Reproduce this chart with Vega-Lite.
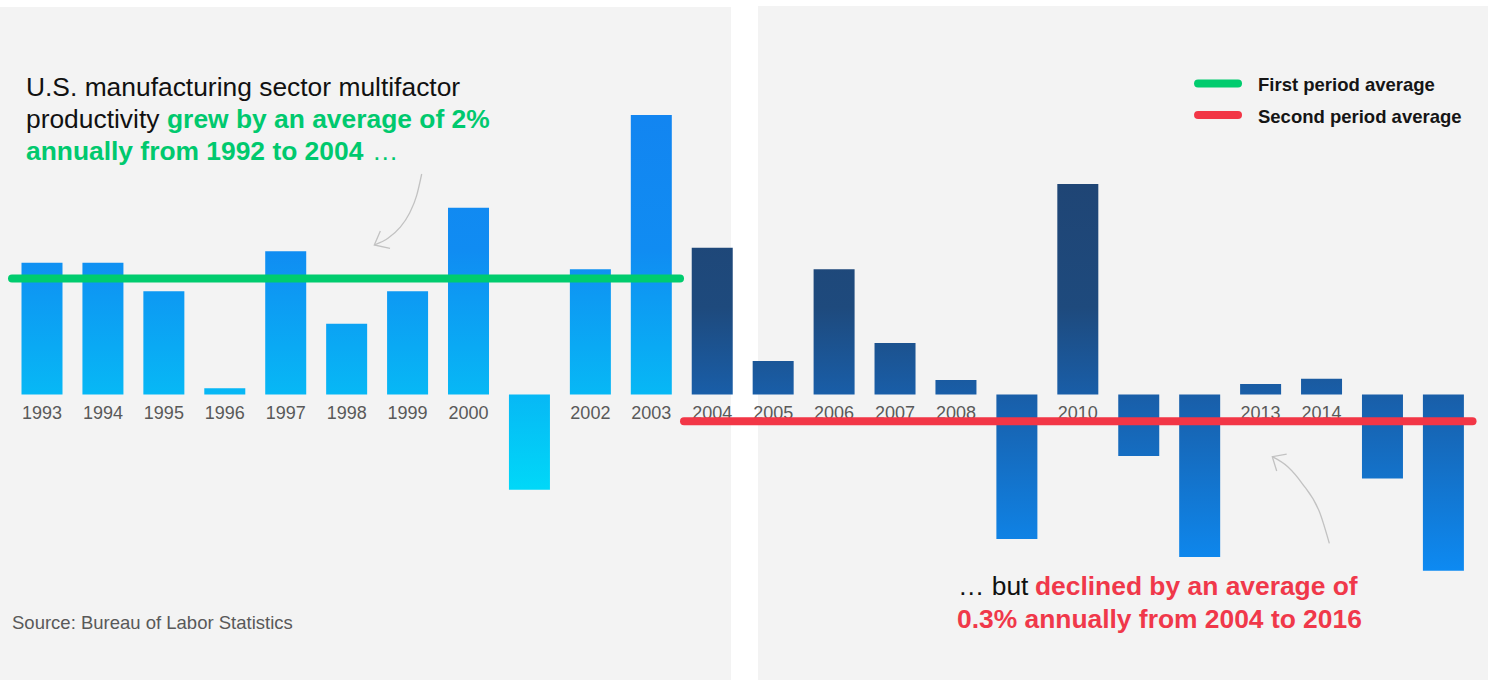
{
  "$schema": "https://vega.github.io/schema/vega-lite/v6.json",
  "width": 1488,
  "height": 680,
  "autosize": "none",
  "padding": 0,
  "background": "white",
  "config": {"view": {"stroke": null}, "axis": {"disable": true}, "font": "Liberation Sans", "scale": {"continuousPadding": 0}},
  "datasets": {
    "bars": [
      {"year": 1993, "v": 2.27}, {"year": 1994, "v": 2.27}, {"year": 1995, "v": 1.78},
      {"year": 1996, "v": 0.11}, {"year": 1997, "v": 2.47}, {"year": 1998, "v": 1.22},
      {"year": 1999, "v": 1.78}, {"year": 2000, "v": 3.22}, {"year": 2001, "v": -1.64},
      {"year": 2002, "v": 2.16}, {"year": 2003, "v": 4.82}, {"year": 2004, "v": 2.53},
      {"year": 2005, "v": 0.58}, {"year": 2006, "v": 2.16}, {"year": 2007, "v": 0.89},
      {"year": 2008, "v": 0.25}, {"year": 2009, "v": -2.49}, {"year": 2010, "v": 3.63},
      {"year": 2011, "v": -1.06}, {"year": 2012, "v": -2.8}, {"year": 2013, "v": 0.18},
      {"year": 2014, "v": 0.27}, {"year": 2015, "v": -1.45}, {"year": 2016, "v": -3.04}
    ],
    "panels": [
      {"panel": "left", "x": 1992.3107, "x2": 2004.308, "v": 6.681, "v2": -4.922},
      {"panel": "right", "x": 2004.751, "x2": 2016.732, "v": 6.698, "v2": -4.922}
    ],
    "avg": [
      {"period": "first", "x": 1992.508, "v": 2.0},
      {"period": "first", "x": 2003.471, "v": 2.0},
      {"period": "second", "x": 2003.537, "v": -0.462},
      {"period": "second", "x": 2016.478, "v": -0.462}
    ],
    "key": [
      {"period": "first", "x": 2011.973, "v": 5.362},
      {"period": "first", "x": 2012.629, "v": 5.362},
      {"period": "second", "x": 2011.973, "v": 4.819},
      {"period": "second", "x": 2012.629, "v": 4.819}
    ],
    "notes": [
      {"style": "key", "x": 2012.957, "v": 5.233, "text": "First period average"},
      {"style": "key", "x": 2012.957, "v": 4.681, "text": "Second period average"},
      {"style": "black", "x": 1992.737, "v": 5.147, "text": "U.S. manufacturing sector multifactor"},
      {"style": "black", "x": 1992.737, "v": 4.595, "text": "productivity"},
      {"style": "greenbold", "x": 1995.0515, "v": 4.595, "text": "grew by an average of 2%"},
      {"style": "greenbold", "x": 1992.737, "v": 4.043, "text": "annually from 1992 to 2004"},
      {"style": "green", "x": 1998.416, "v": 4.043, "text": "…"},
      {"style": "black", "x": 2008.034, "v": -3.457, "text": "… but"},
      {"style": "redbold", "x": 2009.297, "v": -3.457, "text": "declined by an average of"},
      {"style": "redbold", "x": 2008.017, "v": -4.026, "text": "0.3% annually from 2004 to 2016"},
      {"style": "source", "x": 1992.508, "v": -4.043, "text": "Source: Bureau of Labor Statistics"}
    ],
    "arrows": [
      {"arrow": "a", "x": 1999.2317, "v": 3.802},
      {"arrow": "a", "x": 1999.1497, "v": 3.433},
      {"arrow": "a", "x": 1999.0315, "v": 3.126},
      {"arrow": "a", "x": 1998.8756, "v": 2.881},
      {"arrow": "a", "x": 1998.6836, "v": 2.698},
      {"arrow": "a", "x": 1998.454, "v": 2.578},
      {"arrow": "b", "x": 2014.128, "v": -2.566},
      {"arrow": "b", "x": 2013.975, "v": -2.048},
      {"arrow": "b", "x": 2013.68, "v": -1.531},
      {"arrow": "b", "x": 2013.45, "v": -1.25},
      {"arrow": "b", "x": 2013.192, "v": -1.072}
    ],
    "heads": [
      {"arrow": "a", "i": 1, "x": 1998.553, "v": 2.819},
      {"arrow": "a", "i": 2, "x": 1998.454, "v": 2.578},
      {"arrow": "a", "i": 3, "x": 1998.712, "v": 2.521},
      {"arrow": "b", "i": 1, "x": 2013.428, "v": -1.026},
      {"arrow": "b", "i": 2, "x": 2013.192, "v": -1.072},
      {"arrow": "b", "i": 3, "x": 2013.264, "v": -1.319}
    ]
  },
  "layer": [
    {
      "data": {"name": "panels"},
      "mark": {"type": "rect", "fill": "#f3f3f3"},
      "encoding": {
        "x": {"field": "x", "type": "quantitative", "scale": {"domain": [1992.3107, 2016.732], "nice": false, "zero": false, "padding": 0}, "axis": null},
        "x2": {"field": "x2"},
        "y": {"field": "v", "type": "quantitative", "scale": {"domain": [-4.922, 6.802], "nice": false, "zero": false, "padding": 0}, "axis": null},
        "y2": {"field": "v2"}
      }
    },
    {
      "data": {"name": "bars"},
      "mark": {
        "type": "bar",
        "width": 41,
        "fill": {"expr": "datum.year < 2004 ? {gradient: 'linear', x1: 0, x2: 0, y1: (max(datum.v, 0) - 4.82) / abs(datum.v), y2: (max(datum.v, 0) + 1.64) / abs(datum.v), stops: [{offset: 0, color: '#1285f1'}, {offset: 0.36, color: '#108cf2'}, {offset: 0.746, color: '#07b8f5'}, {offset: 1, color: '#00d8f8'}]} : {gradient: 'linear', x1: 0, x2: 0, y1: (max(datum.v, 0) - 3.63) / abs(datum.v), y2: (max(datum.v, 0) + 3.04) / abs(datum.v), stops: [{offset: 0, color: '#1f4575'}, {offset: 0.32, color: '#1e4a7d'}, {offset: 0.544, color: '#195ea8'}, {offset: 1, color: '#0d8af2'}]}"}
      },
      "encoding": {
        "x": {"field": "year", "type": "quantitative", "scale": {"domain": [1992.3107, 2016.732], "nice": false, "zero": false, "padding": 0}, "axis": null},
        "y": {"field": "v", "type": "quantitative", "scale": {"domain": [-4.922, 6.802], "nice": false, "zero": false, "padding": 0}, "axis": null},
        "y2": {"datum": 0}
      }
    },
    {
      "data": {"name": "bars"},
      "transform": [{"filter": "datum.v > 0"}],
      "mark": {"type": "text", "fontSize": 18, "color": "#595959", "baseline": "alphabetic", "align": "center", "dy": 24, "font": "Liberation Sans"},
      "encoding": {
        "x": {"field": "year", "type": "quantitative", "scale": {"domain": [1992.3107, 2016.732], "nice": false, "zero": false, "padding": 0}, "axis": null},
        "y": {"datum": 0, "type": "quantitative", "scale": {"domain": [-4.922, 6.802], "nice": false, "zero": false, "padding": 0}, "axis": null},
        "text": {"field": "year", "type": "nominal"}
      }
    },
    {
      "data": {"name": "avg"},
      "mark": {"type": "line", "strokeWidth": 8, "strokeCap": "round"},
      "encoding": {
        "x": {"field": "x", "type": "quantitative", "scale": {"domain": [1992.3107, 2016.732], "nice": false, "zero": false, "padding": 0}, "axis": null},
        "y": {"field": "v", "type": "quantitative", "scale": {"domain": [-4.922, 6.802], "nice": false, "zero": false, "padding": 0}, "axis": null},
        "color": {"field": "period", "type": "nominal", "scale": {"domain": ["first", "second"], "range": ["#00cc6e", "#f23646"]}, "legend": null}
      }
    },
    {
      "data": {"name": "key"},
      "mark": {"type": "line", "strokeWidth": 8, "strokeCap": "round"},
      "encoding": {
        "x": {"field": "x", "type": "quantitative", "scale": {"domain": [1992.3107, 2016.732], "nice": false, "zero": false, "padding": 0}, "axis": null},
        "y": {"field": "v", "type": "quantitative", "scale": {"domain": [-4.922, 6.802], "nice": false, "zero": false, "padding": 0}, "axis": null},
        "color": {"field": "period", "type": "nominal", "scale": {"domain": ["first", "second"], "range": ["#00cc6e", "#f23646"]}, "legend": null}
      }
    },
    {
      "data": {"name": "arrows"},
      "mark": {"type": "line", "interpolate": "monotone", "stroke": "#c2c2c2", "strokeWidth": 1.3},
      "encoding": {
        "x": {"field": "x", "type": "quantitative", "scale": {"domain": [1992.3107, 2016.732], "nice": false, "zero": false, "padding": 0}, "axis": null},
        "y": {"field": "v", "type": "quantitative", "scale": {"domain": [-4.922, 6.802], "nice": false, "zero": false, "padding": 0}, "axis": null},
        "detail": {"field": "arrow", "type": "nominal"}
      }
    },
    {
      "data": {"name": "heads"},
      "mark": {"type": "line", "stroke": "#c2c2c2", "strokeWidth": 1.3},
      "encoding": {
        "x": {"field": "x", "type": "quantitative", "scale": {"domain": [1992.3107, 2016.732], "nice": false, "zero": false, "padding": 0}, "axis": null},
        "y": {"field": "v", "type": "quantitative", "scale": {"domain": [-4.922, 6.802], "nice": false, "zero": false, "padding": 0}, "axis": null},
        "detail": {"field": "arrow", "type": "nominal"},
        "order": {"field": "i", "type": "quantitative"}
      }
    },
    {
      "data": {"name": "notes"},
      "transform": [{"filter": "datum.style === 'key'"}],
      "mark": {"type": "text", "fontSize": 18.5, "fontWeight": "bold", "color": "#151515", "align": "left", "baseline": "alphabetic", "font": "Liberation Sans"},
      "encoding": {
        "x": {"field": "x", "type": "quantitative", "scale": {"domain": [1992.3107, 2016.732], "nice": false, "zero": false, "padding": 0}, "axis": null},
        "y": {"field": "v", "type": "quantitative", "scale": {"domain": [-4.922, 6.802], "nice": false, "zero": false, "padding": 0}, "axis": null},
        "text": {"field": "text", "type": "nominal"}
      }
    },
    {
      "data": {"name": "notes"},
      "transform": [{"filter": "datum.style === 'black'"}],
      "mark": {"type": "text", "fontSize": 26.4, "color": "#111111", "align": "left", "baseline": "alphabetic", "font": "Liberation Sans"},
      "encoding": {
        "x": {"field": "x", "type": "quantitative", "scale": {"domain": [1992.3107, 2016.732], "nice": false, "zero": false, "padding": 0}, "axis": null},
        "y": {"field": "v", "type": "quantitative", "scale": {"domain": [-4.922, 6.802], "nice": false, "zero": false, "padding": 0}, "axis": null},
        "text": {"field": "text", "type": "nominal"}
      }
    },
    {
      "data": {"name": "notes"},
      "transform": [{"filter": "datum.style === 'greenbold'"}],
      "mark": {"type": "text", "fontSize": 26.4, "fontWeight": "bold", "color": "#00c96e", "align": "left", "baseline": "alphabetic", "font": "Liberation Sans"},
      "encoding": {
        "x": {"field": "x", "type": "quantitative", "scale": {"domain": [1992.3107, 2016.732], "nice": false, "zero": false, "padding": 0}, "axis": null},
        "y": {"field": "v", "type": "quantitative", "scale": {"domain": [-4.922, 6.802], "nice": false, "zero": false, "padding": 0}, "axis": null},
        "text": {"field": "text", "type": "nominal"}
      }
    },
    {
      "data": {"name": "notes"},
      "transform": [{"filter": "datum.style === 'green'"}],
      "mark": {"type": "text", "fontSize": 26.4, "color": "#00c96e", "align": "left", "baseline": "alphabetic", "font": "Liberation Sans"},
      "encoding": {
        "x": {"field": "x", "type": "quantitative", "scale": {"domain": [1992.3107, 2016.732], "nice": false, "zero": false, "padding": 0}, "axis": null},
        "y": {"field": "v", "type": "quantitative", "scale": {"domain": [-4.922, 6.802], "nice": false, "zero": false, "padding": 0}, "axis": null},
        "text": {"field": "text", "type": "nominal"}
      }
    },
    {
      "data": {"name": "notes"},
      "transform": [{"filter": "datum.style === 'redbold'"}],
      "mark": {"type": "text", "fontSize": 26.4, "fontWeight": "bold", "color": "#f0384a", "align": "left", "baseline": "alphabetic", "font": "Liberation Sans"},
      "encoding": {
        "x": {"field": "x", "type": "quantitative", "scale": {"domain": [1992.3107, 2016.732], "nice": false, "zero": false, "padding": 0}, "axis": null},
        "y": {"field": "v", "type": "quantitative", "scale": {"domain": [-4.922, 6.802], "nice": false, "zero": false, "padding": 0}, "axis": null},
        "text": {"field": "text", "type": "nominal"}
      }
    },
    {
      "data": {"name": "notes"},
      "transform": [{"filter": "datum.style === 'source'"}],
      "mark": {"type": "text", "fontSize": 18.5, "color": "#595959", "align": "left", "baseline": "alphabetic", "font": "Liberation Sans"},
      "encoding": {
        "x": {"field": "x", "type": "quantitative", "scale": {"domain": [1992.3107, 2016.732], "nice": false, "zero": false, "padding": 0}, "axis": null},
        "y": {"field": "v", "type": "quantitative", "scale": {"domain": [-4.922, 6.802], "nice": false, "zero": false, "padding": 0}, "axis": null},
        "text": {"field": "text", "type": "nominal"}
      }
    }
  ]
}
